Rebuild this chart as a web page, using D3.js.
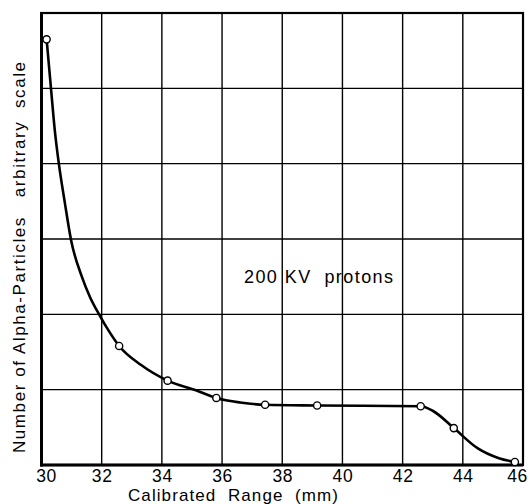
<!DOCTYPE html>
<html><head><meta charset="utf-8">
<script src="https://cdn.jsdelivr.net/npm/d3@7"></script>
<style>body{margin:0;background:#fff}svg{display:block}</style>
</head><body>
<script>
// Data
const xTicks = [30, 32, 34, 36, 38, 40, 42, 44, 46];
const yGrid = [0, 1, 2, 3, 4, 5, 6];
// measured points (circles)
const pointRange = [30.17, 32.58, 34.19, 35.81, 37.43, 39.16, 42.6, 43.7, 45.73];
const pointCount = [5.65, 1.58, 1.12, 0.89, 0.80, 0.79, 0.78, 0.49, 0.04];
// smooth curve traced through the picture
const curveRange = [30.17, 30.315, 30.44, 30.58, 30.78, 30.98, 31.34, 31.61, 31.94, 32.22, 32.58, 33.3, 34.19, 35.15, 35.81, 36.6, 37.43, 39.16, 42.6, 43.0, 43.7, 44.5, 45.2, 45.73];
const curveCount = [5.65, 5.0, 4.45, 3.99, 3.47, 2.99, 2.50, 2.23, 1.98, 1.79, 1.58, 1.33, 1.12, 0.99, 0.89, 0.83, 0.80, 0.79, 0.78, 0.72, 0.49, 0.22, 0.09, 0.04];
const title = "200 KV  protons";
const xLabel = "Calibrated  Range  (mm)";
const yLabel = "Number of Alpha-Particles   arbitrary  scale";

const W = 529, H = 504;
const svg = d3.select("body").append("svg").attr("width", W).attr("height", H);
const x = d3.scaleLinear().domain([30, 46]).range([41.5, 523]);
const y = d3.scaleLinear().domain([0, 6]).range([465, 13]);
const font = "'Liberation Sans', Arial, sans-serif";

// grid
svg.append("g").selectAll("line").data(xTicks).join("line")
  .attr("x1", d => x(d)).attr("x2", d => x(d)).attr("y1", y(0)).attr("y2", y(6))
  .attr("stroke", "#000").attr("stroke-width", 1.4);
svg.append("g").selectAll("line").data(yGrid).join("line")
  .attr("x1", x(30)).attr("x2", x(46)).attr("y1", d => y(d)).attr("y2", d => y(d))
  .attr("stroke", "#000").attr("stroke-width", 1.4);

// frame
svg.append("rect").attr("x", x(30)).attr("y", y(6)).attr("width", x(46) - x(30)).attr("height", y(0) - y(6))
  .attr("fill", "none").attr("stroke", "#000").attr("stroke-width", 2.2);
svg.append("line").attr("x1", x(30)).attr("x2", x(30)).attr("y1", y(6)-1).attr("y2", y(0)+1.5).attr("stroke", "#000").attr("stroke-width", 3);
svg.append("line").attr("x1", x(30)-1.5).attr("x2", x(46)).attr("y1", y(0)).attr("y2", y(0)).attr("stroke", "#000").attr("stroke-width", 3);

// x axis tick labels
const xAxis = d3.axisBottom(x).tickValues(xTicks).tickSize(0).tickPadding(5).tickFormat(d3.format("d"));
const gx = svg.append("g").attr("transform", `translate(0,${y(0)})`).call(xAxis);
gx.select(".domain").remove();
gx.selectAll("text").attr("font-family", font).attr("font-size", 17.5).attr("fill", "#000").attr("letter-spacing", 0.6)
  .attr("dx", d => d === 30 ? 4.5 : d === 46 ? -6 : 0);

// curve
const line = d3.line().x(d => x(d[0])).y(d => y(d[1])).curve(d3.curveMonotoneX);
svg.append("path").datum(curveRange.map((r, i) => [r, curveCount[i]]))
  .attr("d", line).attr("fill", "none").attr("stroke", "#000").attr("stroke-width", 2.6);

// points
svg.append("g").selectAll("circle").data(pointRange.map((r, i) => [r, pointCount[i]])).join("circle")
  .attr("cx", d => x(d[0])).attr("cy", d => y(d[1])).attr("r", 3.6)
  .attr("fill", "#fff").attr("stroke", "#000").attr("stroke-width", 1.4);

// annotation
svg.append("text").attr("x", 244).attr("y", 283)
  .attr("font-family", font).attr("font-size", 18)
  .attr("textLength", 149).attr("lengthAdjust", "spacing")
  .style("white-space", "pre").text(title);

// axis labels
svg.append("text").attr("x", 128).attr("y", 500.5)
  .attr("font-family", font).attr("font-size", 17)
  .attr("textLength", 210).attr("lengthAdjust", "spacing")
  .style("white-space", "pre").text(xLabel);
svg.append("text").attr("transform", "translate(25,453) rotate(-90)")
  .attr("font-family", font).attr("font-size", 17)
  .attr("textLength", 391).attr("lengthAdjust", "spacing")
  .style("white-space", "pre").text(yLabel);
</script>
</body></html>
